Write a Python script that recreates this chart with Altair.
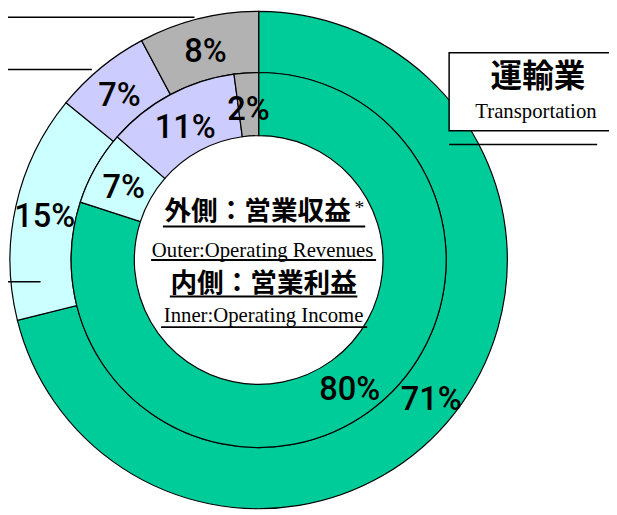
import altair as alt
import pandas as pd

# ---- data ----
segments = ["運輸業", "セグメントB", "セグメントC", "セグメントD"]
outer_values = [71.1, 14.8, 6.3, 7.8]          # 営業収益 (outer ring)
outer_labels = ["71%", "15%", "7%", "8%"]
inner_values = [80.0, 6.4, 11.5, 2.1]          # 営業利益 (inner ring)
inner_labels = ["80%", "7%", "11%", "2%"]
seg_colors = ["#00CC99", "#CCFFFF", "#CCCCFF", "#B2B2B2"]

outer_df = pd.DataFrame({"seg": segments, "value": outer_values,
                         "label": outer_labels, "idx": range(4)})
inner_df = pd.DataFrame({"seg": segments, "value": inner_values,
                         "label": inner_labels, "idx": range(4)})

color_enc = alt.Color("seg:N", scale=alt.Scale(domain=segments, range=seg_colors), legend=None)
LABEL_FONT = "Roboto, Liberation Sans, Arial"
CJK = "Noto Sans CJK JP"
SERIF = "Liberation Serif"


def ring(df, r_out, r_in, r_text):
    base = alt.Chart(df).encode(
        theta=alt.Theta("value:Q", stack=True),
        order=alt.Order("idx:Q"),
    )
    arcs = base.mark_arc(outerRadius=r_out, innerRadius=r_in, stroke="black",
                         strokeWidth=1.2).encode(color=color_enc)
    txt = base.mark_text(radius=r_text, font=LABEL_FONT, fontSize=33, fontWeight=500,
                         dy=5, color="black").encode(text="label:N")
    return arcs, txt


outer_arc, outer_txt = ring(outer_df, 252, 190, 222)
inner_arc, inner_txt = ring(inner_df, 190, 126, 157)

one = pd.DataFrame({"a": [0]})


def hline(x1, x2, y, w=1.5):
    return alt.Chart(one).mark_rule(color="black", strokeWidth=w).encode(
        x=alt.value(x1), x2=alt.value(x2), y=alt.value(y))


def label(text, x, y, font, size, weight="normal", baseline="middle"):
    return alt.Chart(one).mark_text(text=text, font=font, fontSize=size,
                                    fontWeight=weight, baseline=baseline,
                                    align="center", color="black").encode(
        x=alt.value(x), y=alt.value(y))


box = alt.Chart(one).mark_rect(fill="white", stroke="black", strokeWidth=1.5).encode(
    x=alt.value(447), x2=alt.value(620), y=alt.value(42), y2=alt.value(121))

layers = [
    outer_arc, inner_arc, outer_txt, inner_txt,
    # leader lines on the left (labels cut off)
    hline(0, 189, 6), hline(0, 85, 59), hline(0, 33, 274),
    # Transportation callout
    box,
    label("運輸業", 537, 67, CJK, 32, "bold"),
    label("Transportation", 535, 108, SERIF, 21, baseline="alphabetic"),
    hline(447, 597, 135),
    # centre title
    label("外側：営業収益", 253, 203, CJK, 27, "bold"),
    label("*", 356, 199, SERIF, 20),
    hline(157, 362, 218, 2),
    label("Outer:Operating Revenues", 258, 249, SERIF, 21, baseline="alphabetic"),
    hline(145, 373, 252, 2),
    label("内側：営業利益", 259, 276, CJK, 27, "bold"),
    hline(164, 354, 289, 2),
    label("Inner:Operating Income", 259, 315, SERIF, 21, baseline="alphabetic"),
    hline(155, 364, 320, 2),
]

chart = alt.layer(*layers).resolve_scale(theta="independent").properties(
    width=508, height=504,
    autosize=alt.AutoSizeParams(type="none"),
    padding={"left": 0, "top": 0, "right": 101, "bottom": 3},
).configure_view(stroke=None)

chart.save("out.html", embed_options={"renderer": "svg", "actions": False})
